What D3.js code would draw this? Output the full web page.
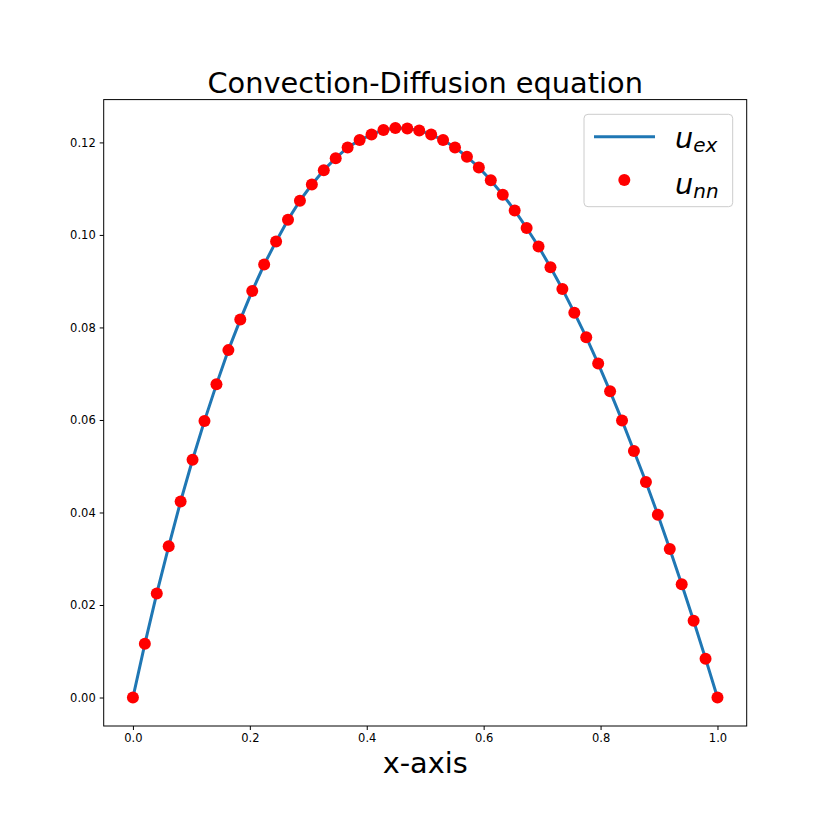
<!DOCTYPE html>
<html lang="en">
<head>
<meta charset="UTF-8">
<title>Convection-Diffusion equation</title>
<script src="https://d3js.org/d3.v7.min.js"></script>
<style>
  body { margin: 0; background: #fff; }
  svg { display: block; font-family: "DejaVu Sans", sans-serif; }
</style>
</head>
<body>
<svg width="830" height="830"></svg>
<script>
// grid points (50 points from 0 to 1)
var xVals = [0, 0.0204, 0.0408, 0.0612, 0.0816, 0.1020, 0.1224, 0.1429, 0.1633, 0.1837,
  0.2041, 0.2245, 0.2449, 0.2653, 0.2857, 0.3061, 0.3265, 0.3469, 0.3673, 0.3878,
  0.4082, 0.4286, 0.4490, 0.4694, 0.4898, 0.5102, 0.5306, 0.5510, 0.5714, 0.5918,
  0.6122, 0.6327, 0.6531, 0.6735, 0.6939, 0.7143, 0.7347, 0.7551, 0.7755, 0.7959,
  0.8163, 0.8367, 0.8571, 0.8776, 0.8980, 0.9184, 0.9388, 0.9592, 0.9796, 1.0];

// exact solution
var uEx = [0, 0.0116, 0.0225, 0.0327, 0.0424, 0.0514, 0.0598, 0.0677, 0.0751, 0.0817,
  0.0879, 0.0936, 0.0986, 0.1033, 0.1074, 0.1109, 0.1140, 0.1166, 0.1189, 0.1205,
  0.1217, 0.1227, 0.1231, 0.1230, 0.1226, 0.1217, 0.1205, 0.1189, 0.1169, 0.1146,
  0.1118, 0.1087, 0.1053, 0.1015, 0.0975, 0.0930, 0.0883, 0.0832, 0.0779, 0.0722,
  0.0662, 0.0599, 0.0533, 0.0466, 0.0395, 0.0321, 0.0245, 0.0166, 0.0084, 0];

// network prediction (same as exact to the eye)
var uNn = uEx.slice();

var xTicks = [0, 0.2, 0.4, 0.6, 0.8, 1.0];
var yTicks = [0, 0.02, 0.04, 0.06, 0.08, 0.10, 0.12];

var svg = d3.select("svg");
var axL = 103.7, axR = 746.7, axT = 99.6, axB = 726;

// matplotlib-like 5% margins
function pad(ext) { var d = ext[1] - ext[0]; return [ext[0] - 0.05 * d, ext[1] + 0.05 * d]; }

var x = d3.scaleLinear().domain(pad(d3.extent(xVals))).range([axL, axR]);
var y = d3.scaleLinear().domain(pad(d3.extent(uEx.concat(uNn)))).range([axB, axT]);

svg.append("clipPath").attr("id", "clip")
  .append("rect").attr("x", axL).attr("y", axT).attr("width", axR - axL).attr("height", axB - axT);

var plot = svg.append("g").attr("clip-path", "url(#clip)");

var line = d3.line().x(function(d, i) { return x(xVals[i]); }).y(function(d) { return y(d); });

plot.append("path")
  .datum(uEx)
  .attr("d", line)
  .attr("fill", "none")
  .attr("stroke", "#1f77b4")
  .attr("stroke-width", 3)
  .attr("stroke-linejoin", "round");

plot.selectAll("circle.dot")
  .data(uNn)
  .enter().append("circle")
  .attr("class", "dot")
  .attr("cx", function(d, i) { return x(xVals[i]); })
  .attr("cy", function(d) { return y(d); })
  .attr("r", 6)
  .attr("fill", "red");

// axes
var xAxis = d3.axisBottom(x).tickValues(xTicks).tickFormat(d3.format(".1f")).tickSize(4).tickPadding(4);
var yAxis = d3.axisLeft(y).tickValues(yTicks).tickFormat(d3.format(".2f")).tickSize(4).tickPadding(4);

var gx = svg.append("g").attr("transform", "translate(0," + axB + ")").call(xAxis);
var gy = svg.append("g").attr("transform", "translate(" + axL + ",0)").call(yAxis);
[gx, gy].forEach(function(g) {
  g.attr("font-family", "DejaVu Sans").attr("font-size", 11.5);
  g.select(".domain").remove();
  g.selectAll(".tick line").attr("stroke", "#000").attr("stroke-width", 1);
  g.selectAll(".tick text").attr("fill", "#000");
});

svg.append("rect")
  .attr("x", axL).attr("y", axT)
  .attr("width", axR - axL).attr("height", axB - axT)
  .attr("fill", "none").attr("stroke", "#000").attr("stroke-width", 1);

// title and x label
svg.append("text")
  .attr("x", (axL + axR) / 2).attr("y", 93)
  .attr("text-anchor", "middle").attr("font-size", 28.8)
  .text("Convection-Diffusion equation");

svg.append("text")
  .attr("x", (axL + axR) / 2).attr("y", 773)
  .attr("text-anchor", "middle").attr("font-size", 28.8)
  .text("x-axis");

// legend
var leg = svg.append("g");
leg.append("rect")
  .attr("x", 584).attr("y", 114.3).attr("width", 148.7).attr("height", 92.4)
  .attr("rx", 4)
  .attr("fill", "#fff").attr("fill-opacity", 0.8)
  .attr("stroke", "#cccccc").attr("stroke-width", 1);

leg.append("line")
  .attr("x1", 594).attr("x2", 655).attr("y1", 136.7).attr("y2", 136.7)
  .attr("stroke", "#1f77b4").attr("stroke-width", 3);

leg.append("circle")
  .attr("cx", 624.3).attr("cy", 180).attr("r", 6).attr("fill", "red");

var labels = [["u", "ex", 148.3], ["u", "nn", 194.3]];
labels.forEach(function(l) {
  var t = leg.append("text").attr("x", 675).attr("y", l[2])
    .attr("font-size", 28.8).attr("font-style", "italic");
  t.append("tspan").text(l[0]);
  t.append("tspan").attr("dy", 4).attr("font-size", 20).text(l[1]);
});
</script>
</body>
</html>
